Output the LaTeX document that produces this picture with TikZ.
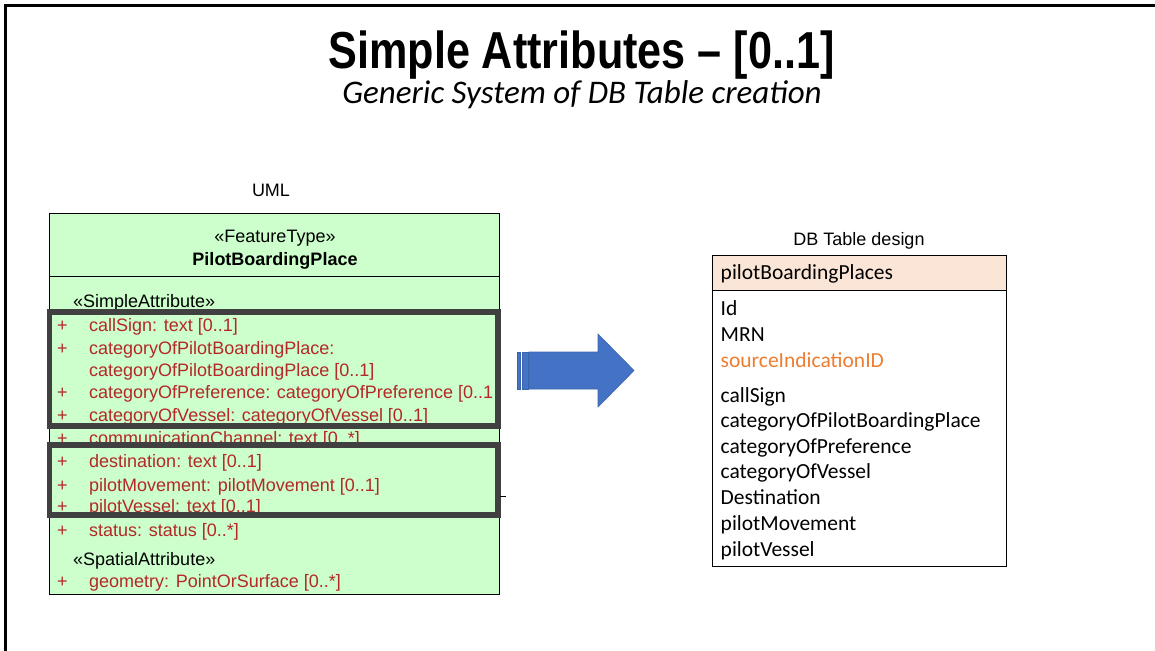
\documentclass[tikz,border=0pt]{standalone}
\usepackage{fontspec}
\usepackage{graphicx}
\setmainfont{Liberation Sans}
\newfontfamily\carlito{Carlito}
\definecolor{umlgreen}{HTML}{CCFFCC}
\definecolor{attrred}{RGB}{180,40,40}
\definecolor{hlgrey}{HTML}{404040}
\definecolor{arrowblue}{HTML}{4472C4}
\definecolor{arrowedge}{HTML}{3B64AE}
\definecolor{peach}{HTML}{FBE5D6}
\definecolor{srcorange}{HTML}{ED7D31}
\tikzset{
  umltxt/.style={anchor=base west, inner sep=0pt, font=\fontsize{18}{20}\selectfont},
  attr/.style={umltxt, text=attrred},
  plus/.style={anchor=base, inner sep=0pt, font=\fontsize{18}{20}\selectfont, text=attrred},
  dbtxt/.style={anchor=base west, inner sep=0pt, font=\carlito\fontsize{21.5}{24}\selectfont},
  hlbox/.style={draw=hlgrey, line width=5.5pt},
}
\begin{document}
\begin{tikzpicture}[x=1pt,y=-1pt]
\useasboundingbox (0,0) rectangle (1155,650);
% frame
\draw[line width=2.5pt] (5.5,660) -- (5.5,5.5) -- (1160,5.5);
% title
\node[inner sep=0pt, anchor=base] (title) at (581.5,69) {\scalebox{0.83}[1]{\fontsize{52}{58}\selectfont\bfseries Simple Attributes -- [0..1]}};
\node[inner sep=0pt, anchor=base] (subtitle) at (582,104) {\carlito\itshape\fontsize{33}{38}\selectfont Generic System of DB Table creation};
% UML
\node[inner sep=0pt, anchor=base] (umllabel) at (271,196) {\fontsize{18}{22}\selectfont UML};
\draw[fill=umlgreen, line width=1pt] (49.5,213.5) rectangle (499.5,594.5);
\draw[line width=1pt] (49.5,276.5) -- (499.5,276.5);
\node[inner sep=0pt, anchor=base] (stereo) at (275,242.5) {\fontsize{18}{20}\selectfont «FeatureType»};
\node[inner sep=0pt, anchor=base] (classname) at (275,265) {\fontsize{18}{20}\selectfont\bfseries PilotBoardingPlace};
\node[umltxt] (simple) at (73,307.5) {«SimpleAttribute»};
\foreach \n/\y/\t in {a1/331/{callSign: text [0..1]},
  a2/354/{categoryOfPilotBoardingPlace:},
  a4/398.5/{categoryOfPreference: categoryOfPreference [0..1},
  a5/421/{categoryOfVessel: categoryOfVessel [0..1]},
  a6/444/{communicationChannel: text [0..*]},
  a7/467.5/{destination: text [0..1]},
  a8/491/{pilotMovement: pilotMovement [0..1]},
  a9/512.5/{pilotVessel: text [0..1]},
  a10/536/{status: status [0..*]},
  a12/587.5/{geometry: PointOrSurface [0..*]}}{
  \node[plus] (p\n) at (62.5,\y) {+};
  \node[attr] (\n) at (89,\y) {\t};
}
\node[attr] (a3) at (89,376) {categoryOfPilotBoardingPlace [0..1]};
\node[umltxt] (spatial) at (73,565) {«SpatialAttribute»};
% highlight boxes
\draw[hlbox] (49.5,312) rectangle (498,426);
\draw[hlbox] (49.5,445) rectangle (498,515);
\draw[line width=0.8pt] (500,496) -- (506,496);
% arrow
\filldraw[fill=arrowblue, draw=arrowedge, line width=0.6pt]
  (529,352) -- (598,352) -- (598,334) -- (634,370.5) -- (598,407) -- (598,389) -- (529,389) -- cycle;
\filldraw[fill=arrowblue, draw=arrowedge, line width=0.6pt] (517.5,352) rectangle (520.5,389);
\filldraw[fill=arrowblue, draw=arrowedge, line width=0.6pt] (522.5,352) rectangle (528,389);
% DB table
\node[inner sep=0pt, anchor=base] (dblabel) at (859,245) {\fontsize{18}{22}\selectfont DB Table design};
\draw[fill=peach, line width=1pt] (712,255.5) rectangle (1006,290.5);
\draw[line width=1pt] (712,290.5) rectangle (1006,566.5);
\node[dbtxt] (dbhead) at (720.5,279.5) {pilotBoardingPlaces};
\foreach \n/\y/\t in {r1/315.5/Id, r2/341/MRN, r4/402/callSign, r5/427.5/categoryOfPilotBoardingPlace,
  r6/453/categoryOfPreference, r7/478.5/categoryOfVessel, r8/504.5/Destination,
  r9/530.5/pilotMovement, r10/556/pilotVessel}{
  \node[dbtxt] (\n) at (720.5,\y) {\t};
}
\node[dbtxt, text=srcorange] (r3) at (720.5,367) {sourceIndicationID};
\end{tikzpicture}
\end{document}
